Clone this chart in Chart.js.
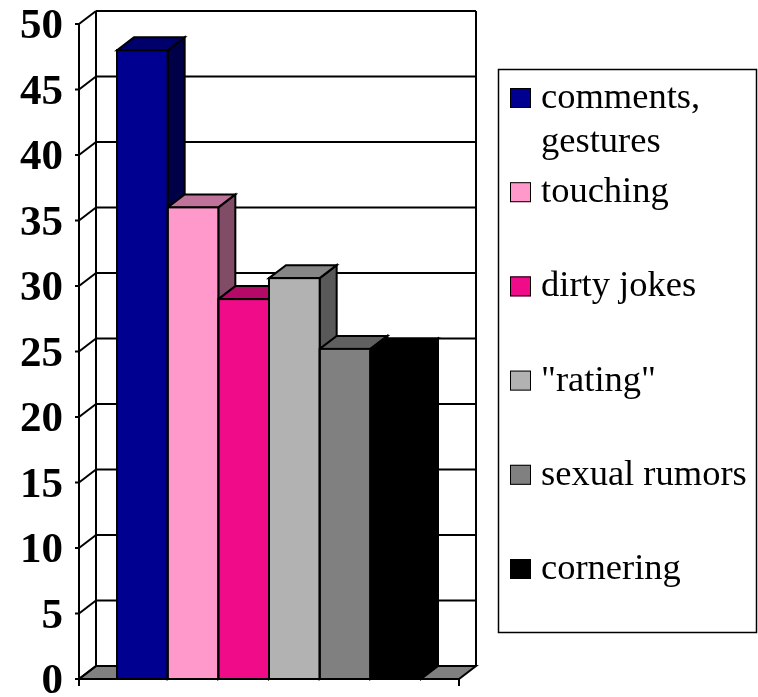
<!DOCTYPE html>
<html><head><meta charset="utf-8">
<script src="https://cdn.jsdelivr.net/npm/chart.js@4.4.0/dist/chart.umd.min.js"></script>
<style>html,body{margin:0;padding:0;background:#fff}canvas{display:block}</style>
</head><body>
<canvas id="c" width="758" height="697"></canvas>
<script>
const categories = [''];
const seriesNames = ['comments, gestures', 'touching', 'dirty jokes', '"rating"', 'sexual rumors', 'cornering'];
const seriesValues = [48, 36, 29, 30.6, 25.2, 25];
const yTicks = [0, 5, 10, 15, 20, 25, 30, 35, 40, 45, 50];
const frontColors = ['#000090', '#FF99CC', '#F00C88', '#B2B2B2', '#808080', '#000000'];
const topColors = ['#00006C', '#C0739A', '#B40966', '#868686', '#606060', '#000000'];
const sideColors = ['#000048', '#804C66', '#78064A', '#595959', '#404040', '#000000'];

const DX = 17, DY = -13;

function line(ctx, x1, y1, x2, y2) {
  ctx.beginPath(); ctx.moveTo(x1, y1); ctx.lineTo(x2, y2); ctx.stroke();
}
function poly(ctx, pts, fill) {
  ctx.beginPath();
  ctx.moveTo(pts[0][0], pts[0][1]);
  for (let k = 1; k < pts.length; k++) ctx.lineTo(pts[k][0], pts[k][1]);
  ctx.closePath();
  ctx.fillStyle = fill; ctx.fill(); ctx.stroke();
}
function barBox(chart, i) {
  const bar = chart.getDatasetMeta(i).data[0];
  return { l: bar.x - bar.width / 2, r: bar.x + bar.width / 2, t: bar.y, b: bar.base };
}

const depthPlugin = {
  id: 'depth3d',
  beforeDatasetsDraw(chart) {
    const ctx = chart.ctx, y = chart.scales.y, a = chart.chartArea;
    const L = a.left, R = a.right;
    const B = y.getPixelForValue(yTicks[0]), T = y.getPixelForValue(yTicks[yTicks.length - 1]);
    ctx.save();
    ctx.lineWidth = 2; ctx.strokeStyle = '#000'; ctx.lineJoin = 'miter';
    poly(ctx, [[L, B], [R, B], [R + DX, B + DY], [L + DX, B + DY]], '#808080');
    yTicks.forEach(v => {
      const py = y.getPixelForValue(v);
      line(ctx, L + DX, py + DY, R + DX, py + DY);
      line(ctx, L, py, L + DX, py + DY);
      line(ctx, L - 4, py, L, py);
    });
    line(ctx, L + DX, T + DY, L + DX, B + DY);
    line(ctx, R + DX, T + DY, R + DX, B + DY);
    line(ctx, L, T, L, B + 7);
    line(ctx, R, B, R, B + 7);
    chart.data.datasets.forEach((ds, i) => {
      const { l, r, t, b } = barBox(chart, i);
      poly(ctx, [[r, t], [r + DX, t + DY], [r + DX, b + DY], [r, b]], sideColors[i]);
      poly(ctx, [[l, t], [l + DX, t + DY], [r + DX, t + DY], [r, t]], topColors[i]);
    });
    ctx.restore();
  },
  afterDatasetsDraw(chart) {
    const ctx = chart.ctx, y = chart.scales.y, a = chart.chartArea;
    ctx.save();
    ctx.lineWidth = 2; ctx.strokeStyle = '#000';
    chart.data.datasets.forEach((ds, i) => {
      const { l, r, t, b } = barBox(chart, i);
      ctx.strokeRect(l, t, r - l, b - t);
    });
    const B = y.getPixelForValue(yTicks[0]);
    line(ctx, a.left, B, a.right, B);
    ctx.restore();
  },
  afterDraw(chart) {
    const ctx = chart.ctx;
    ctx.save();
    ctx.lineWidth = 1.5; ctx.strokeStyle = '#000';
    ctx.strokeRect(498.5, 69.5, 258, 563);
    ctx.font = '36.5px "Liberation Serif", "Times New Roman", serif';
    ctx.textBaseline = 'alphabetic'; ctx.textAlign = 'left';
    const maxW = 212;
    chart.data.datasets.forEach((ds, i) => {
      const base = 108 + i * 94.2;
      ctx.fillStyle = ds.backgroundColor;
      ctx.fillRect(510, base - 20, 21, 20);
      ctx.lineWidth = 1; ctx.strokeStyle = '#000';
      ctx.strokeRect(510.5, base - 19.5, 20, 19);
      const words = ds.label.split(' ');
      const lines = []; let cur = '';
      words.forEach(w => {
        const test = cur ? cur + ' ' + w : w;
        if (cur && ctx.measureText(test).width > maxW) { lines.push(cur); cur = w; } else cur = test;
      });
      if (cur) lines.push(cur);
      ctx.fillStyle = '#000';
      lines.forEach((ln, k) => ctx.fillText(ln, 541, base + k * 43.5));
    });
    ctx.restore();
  }
};

new Chart(document.getElementById('c'), {
  type: 'bar',
  data: {
    labels: categories,
    datasets: seriesNames.map((name, i) => ({
      label: name,
      data: [seriesValues[i]],
      backgroundColor: frontColors[i],
      borderWidth: 0
    }))
  },
  options: {
    responsive: false,
    animation: false,
    events: [],
    layout: { padding: { left: 0, top: 24, right: 299, bottom: 18 } },
    datasets: { bar: { categoryPercentage: 0.8, barPercentage: 1.0 } },
    plugins: { legend: { display: false }, tooltip: { enabled: false }, title: { display: false } },
    scales: {
      x: { display: false },
      y: {
        min: 0, max: 50,
        afterBuildTicks(scale) { scale.ticks = yTicks.map(v => ({ value: v })); },
        afterFit(scale) { scale.width = 79; scale.paddingTop = 0; scale.paddingBottom = 0; },
        grid: { display: false, drawTicks: false, tickLength: 0 },
        border: { display: false },
        ticks: {
          autoSkip: false,
          padding: 16,
          labelOffset: 3,
          color: '#000',
          font: { family: '"Liberation Serif", "Times New Roman", serif', size: 43, weight: 'bold' }
        }
      }
    }
  },
  plugins: [depthPlugin]
});
</script>
</body></html>
